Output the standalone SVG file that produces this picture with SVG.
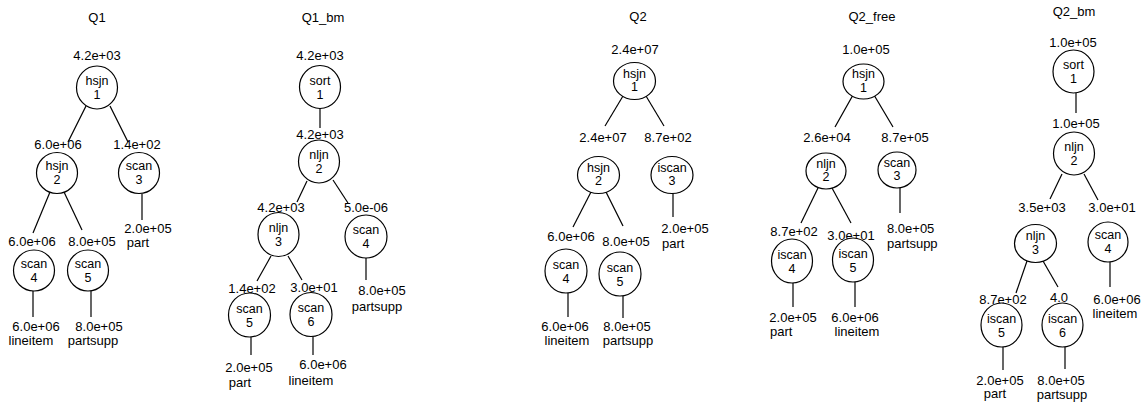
<svg xmlns="http://www.w3.org/2000/svg" width="1142" height="402" viewBox="0 0 1142 402">
<style>
text{font-family:"Liberation Sans",Arial,sans-serif;fill:#000;text-anchor:middle}
.t{font-size:13px}
.l{font-size:13px}
.n{font-size:12.5px}
.s{text-anchor:start}
ellipse{fill:#fff;stroke:#000;stroke-width:1.2}
#edges line{stroke:#000;stroke-width:1.2}
</style>
<rect width="1142" height="402" fill="#fff"/>
<g id="titles">
<text class="t" x="97" y="21.5">Q1</text>
<text class="t" x="323" y="21.5">Q1_bm</text>
<text class="t" x="638" y="20.5">Q2</text>
<text class="t" x="872" y="20.5">Q2_free</text>
<text class="t" x="1074" y="16">Q2_bm</text>
</g>
<g id="edges">
<!-- Q1 -->
<line x1="86" y1="106" x2="68" y2="142"/>
<line x1="110" y1="106" x2="128" y2="142"/>
<line x1="50" y1="192" x2="33" y2="233"/>
<line x1="64" y1="192" x2="82" y2="230"/>
<line x1="142" y1="194" x2="142" y2="220"/>
<line x1="33" y1="291" x2="33" y2="317"/>
<line x1="91" y1="291" x2="91" y2="317"/>
<!-- Q1_bm -->
<line x1="320" y1="108" x2="320" y2="128"/>
<line x1="307" y1="181" x2="297" y2="202"/>
<line x1="333" y1="180" x2="348" y2="203"/>
<line x1="271" y1="256" x2="257" y2="281"/>
<line x1="288" y1="256" x2="302" y2="280"/>
<line x1="366" y1="258" x2="366" y2="280"/>
<line x1="251" y1="337" x2="251" y2="355"/>
<line x1="313" y1="336" x2="313" y2="355"/>
<!-- Q2 -->
<line x1="623" y1="96" x2="605" y2="126"/>
<line x1="646" y1="96" x2="664" y2="126"/>
<line x1="591" y1="192" x2="573" y2="227"/>
<line x1="606" y1="192" x2="623" y2="226"/>
<line x1="673" y1="193" x2="673" y2="217"/>
<line x1="568" y1="293" x2="568" y2="317"/>
<line x1="623" y1="296" x2="623" y2="318"/>
<!-- Q2_free -->
<line x1="853" y1="95" x2="835" y2="127"/>
<line x1="874" y1="95" x2="893" y2="127"/>
<line x1="900" y1="188" x2="900" y2="213"/>
<line x1="818" y1="188" x2="801" y2="223"/>
<line x1="832" y1="188" x2="851" y2="223"/>
<line x1="793" y1="283" x2="793" y2="307"/>
<line x1="855" y1="282" x2="855" y2="307"/>
<!-- Q2_bm -->
<line x1="1076" y1="93" x2="1076" y2="113"/>
<line x1="1062" y1="174" x2="1050" y2="199"/>
<line x1="1084" y1="174" x2="1098" y2="200"/>
<line x1="1110" y1="262" x2="1110" y2="287"/>
<line x1="1027" y1="261" x2="1016" y2="293"/>
<line x1="1043" y1="261" x2="1058" y2="287"/>
<line x1="1003" y1="347" x2="1003" y2="370"/>
<line x1="1065" y1="347" x2="1065" y2="369"/>
</g>
<!-- Q1 nodes -->
<g id="q1-n1"><text class="l" x="97" y="59.5">4.2e+03</text><ellipse cx="97" cy="87.5" rx="20.5" ry="21.5"/><text class="n" x="97" y="85">hsjn</text><text class="n" x="97" y="99">1</text></g>
<g id="q1-n2"><text class="l" x="58" y="148.5">6.0e+06</text><ellipse cx="57" cy="173" rx="20.5" ry="20.5"/><text class="n" x="57" y="170">hsjn</text><text class="n" x="57" y="184">2</text></g>
<g id="q1-n3"><text class="l" x="137" y="148.5">1.4e+02</text><ellipse cx="139" cy="173" rx="20.5" ry="20.5"/><text class="n" x="139" y="170">scan</text><text class="n" x="139" y="184">3</text><text class="l" x="148" y="232.5">2.0e+05</text><text class="l" x="138" y="246.5">part</text></g>
<g id="q1-n4"><text class="l" x="32" y="245.5">6.0e+06</text><ellipse cx="34" cy="270.5" rx="20.5" ry="20.5"/><text class="n" x="34" y="267.5">scan</text><text class="n" x="34" y="281.5">4</text><text class="l" x="36" y="330.5">6.0e+06</text><text class="l" x="31" y="344.5">lineitem</text></g>
<g id="q1-n5"><text class="l" x="92" y="245.5">8.0e+05</text><ellipse cx="88" cy="270.5" rx="20.5" ry="20.5"/><text class="n" x="88" y="267.5">scan</text><text class="n" x="88" y="281.5">5</text><text class="l" x="99" y="330.5">8.0e+05</text><text class="l" x="93" y="344.5">partsupp</text></g>
<!-- Q1_bm nodes -->
<g id="q1bm-n1"><text class="l" x="320" y="59.5">4.2e+03</text><ellipse cx="320" cy="87" rx="20.5" ry="21.5"/><text class="n" x="320" y="85">sort</text><text class="n" x="320" y="99">1</text></g>
<g id="q1bm-n2"><text class="l" x="320" y="138.5">4.2e+03</text><ellipse cx="319" cy="161.5" rx="20.5" ry="21.5"/><text class="n" x="319" y="159">nljn</text><text class="n" x="319" y="173">2</text></g>
<g id="q1bm-n3"><text class="l" x="281" y="211.5">4.2e+03</text><ellipse cx="278.5" cy="234.5" rx="20.5" ry="22"/><text class="n" x="278.5" y="232">nljn</text><text class="n" x="278.5" y="246">3</text></g>
<g id="q1bm-n4"><text class="l" x="366" y="211.5">5.0e-06</text><ellipse cx="366" cy="236.5" rx="21" ry="21.5"/><text class="n" x="366" y="234">scan</text><text class="n" x="366" y="248">4</text><text class="l" x="382" y="294.5">8.0e+05</text><text class="l" x="377" y="310.5">partsupp</text></g>
<g id="q1bm-n5"><text class="l" x="252" y="292.5">1.4e+02</text><ellipse cx="249.5" cy="315" rx="21" ry="22"/><text class="n" x="249.5" y="312.5">scan</text><text class="n" x="249.5" y="326.5">5</text><text class="l" x="249" y="371.5">2.0e+05</text><text class="l" x="240" y="386.5">part</text></g>
<g id="q1bm-n6"><text class="l" x="314" y="291.5">3.0e+01</text><ellipse cx="311" cy="314.5" rx="21" ry="22"/><text class="n" x="311" y="312">scan</text><text class="n" x="311" y="326">6</text><text class="l" x="323" y="368.5">6.0e+06</text><text class="l" x="311" y="384.5">lineitem</text></g>
<!-- Q2 nodes -->
<g id="q2-n1"><text class="l" x="635" y="53.5">2.4e+07</text><ellipse cx="634.5" cy="81" rx="21" ry="18.5"/><text class="n" x="634.5" y="77.5">hsjn</text><text class="n" x="634.5" y="91">1</text></g>
<g id="q2-n2"><text class="l" x="603" y="141.5">2.4e+07</text><ellipse cx="598.5" cy="175" rx="21" ry="18.5"/><text class="n" x="598.5" y="171.5">hsjn</text><text class="n" x="598.5" y="185">2</text></g>
<g id="q2-n3"><text class="l" x="668" y="141.5">8.7e+02</text><ellipse cx="672" cy="175" rx="21" ry="18.5"/><text class="n" x="672" y="171.5">iscan</text><text class="n" x="672" y="185">3</text><text class="l" x="685" y="232.5">2.0e+05</text><text class="l s" x="662" y="247.5">part</text></g>
<g id="q2-n4"><text class="l" x="571" y="240.5">6.0e+06</text><ellipse cx="566" cy="271" rx="21" ry="22"/><text class="n" x="566" y="268.5">scan</text><text class="n" x="566" y="282.5">4</text><text class="l" x="565" y="330.5">6.0e+06</text><text class="l" x="567" y="344.5">lineitem</text></g>
<g id="q2-n5"><text class="l" x="626" y="245.5">8.0e+05</text><ellipse cx="620" cy="274" rx="21" ry="22"/><text class="n" x="620" y="271.5">scan</text><text class="n" x="620" y="285.5">5</text><text class="l" x="627" y="330.5">8.0e+05</text><text class="l" x="628" y="344.5">partsupp</text></g>
<!-- Q2_free nodes -->
<g id="q2f-n1"><text class="l" x="866" y="53.5">1.0e+05</text><ellipse cx="863.5" cy="81.5" rx="20.5" ry="17.5"/><text class="n" x="863.5" y="78">hsjn</text><text class="n" x="863.5" y="91.5">1</text></g>
<g id="q2f-n2"><text class="l" x="827" y="141.5">2.6e+04</text><ellipse cx="826" cy="171" rx="20" ry="18"/><text class="n" x="826" y="167.5">nljn</text><text class="n" x="826" y="181">2</text></g>
<g id="q2f-n3"><text class="l" x="905" y="141.5">8.7e+05</text><ellipse cx="897" cy="170" rx="19" ry="18"/><text class="n" x="897" y="166.5">scan</text><text class="n" x="897" y="180">3</text><text class="l s" x="887" y="232.5">8.0e+05</text><text class="l s" x="887" y="247.5">partsupp</text></g>
<g id="q2f-n4"><text class="l" x="794" y="235.5">8.7e+02</text><ellipse cx="792" cy="261" rx="20.5" ry="22"/><text class="n" x="792" y="258.5">iscan</text><text class="n" x="792" y="272.5">4</text><text class="l" x="793" y="321.5">2.0e+05</text><text class="l s" x="770" y="335.5">part</text></g>
<g id="q2f-n5"><text class="l" x="851" y="239.5">3.0e+01</text><ellipse cx="853" cy="260" rx="20.5" ry="22"/><text class="n" x="853" y="257.5">iscan</text><text class="n" x="853" y="271.5">5</text><text class="l" x="855" y="321.5">6.0e+06</text><text class="l" x="857" y="335.5">lineitem</text></g>
<!-- Q2_bm nodes -->
<g id="q2bm-n1"><text class="l" x="1073" y="46.5">1.0e+05</text><ellipse cx="1073.5" cy="71.5" rx="20.5" ry="21.5"/><text class="n" x="1073.5" y="69">sort</text><text class="n" x="1073.5" y="83">1</text></g>
<g id="q2bm-n2"><text class="l" x="1076" y="127.5">1.0e+05</text><ellipse cx="1074" cy="153.5" rx="20.5" ry="21.5"/><text class="n" x="1074" y="151">nljn</text><text class="n" x="1074" y="165">2</text></g>
<g id="q2bm-n3"><text class="l" x="1042" y="211.5">3.5e+03</text><ellipse cx="1035.5" cy="243.5" rx="21" ry="19"/><text class="n" x="1035.5" y="240">nljn</text><text class="n" x="1035.5" y="254">3</text></g>
<g id="q2bm-n4"><text class="l" x="1112" y="211.5">3.0e+01</text><ellipse cx="1108" cy="242" rx="20" ry="20"/><text class="n" x="1108" y="239">scan</text><text class="n" x="1108" y="253">4</text><text class="l" x="1117" y="303.5">6.0e+06</text><text class="l" x="1115" y="317.5">lineitem</text></g>
<g id="q2bm-n5"><text class="l" x="1003" y="303.5">8.7e+02</text><ellipse cx="1001.5" cy="325" rx="20.5" ry="22"/><text class="n" x="1001.5" y="322.5">iscan</text><text class="n" x="1001.5" y="336.5">5</text><text class="l" x="1000" y="384.5">2.0e+05</text><text class="l" x="995" y="397.5">part</text></g>
<g id="q2bm-n6"><text class="l" x="1059" y="301.5">4.0</text><ellipse cx="1062.5" cy="325" rx="20.5" ry="22"/><text class="n" x="1062.5" y="322.5">iscan</text><text class="n" x="1062.5" y="336.5">6</text><text class="l" x="1061" y="384.5">8.0e+05</text><text class="l" x="1062" y="398.5">partsupp</text></g>
</svg>
